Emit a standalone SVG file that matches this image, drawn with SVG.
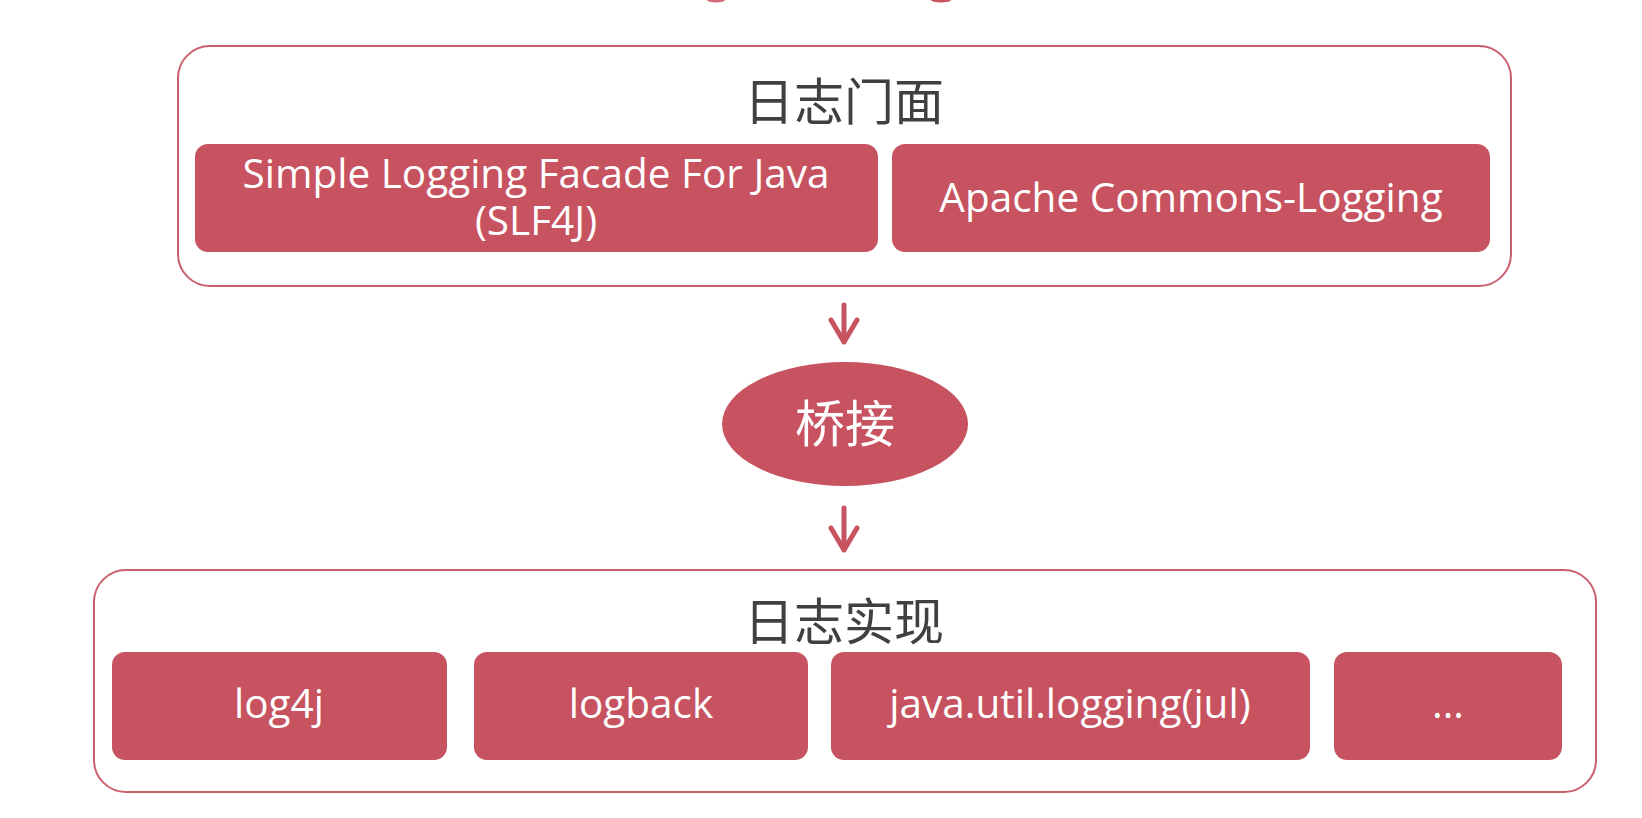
<svg xmlns="http://www.w3.org/2000/svg" width="1642" height="818" viewBox="0 0 1642 818">
<defs>
<style>
.container{fill:#ffffff;stroke:#c9606c;stroke-width:2}
.box{fill:#c75260}
.title{font-family:"Noto Sans CJK SC","Noto Sans",sans-serif;font-size:50px;fill:#404040;text-anchor:middle}
.lbl{font-family:"Open Sans","Noto Sans",sans-serif;font-size:40.5px;fill:#ffffff;text-anchor:middle}
.cjk{font-family:"Noto Sans CJK SC",sans-serif;font-size:50px;fill:#ffffff;text-anchor:middle}
.conn{stroke:#c75260;stroke-width:5;fill:none;stroke-linecap:round;stroke-linejoin:round}
</style>
</defs>
<rect width="1642" height="818" fill="#ffffff"/>
<g id="top-fragments">
<ellipse cx="716" cy="0" rx="9" ry="2.5" fill="#d26a77"/>
<ellipse cx="941" cy="0" rx="10" ry="2.5" fill="#c75260"/>
</g>
<g id="facade">
<rect class="container" x="178" y="46" width="1333" height="240" rx="32"/>
<text class="title" x="844" y="120">日志门面</text>
</g>
<g id="slf4j">
<rect class="box" x="195" y="144" width="683" height="108" rx="13"/>
<text class="lbl" x="536" y="188">Simple Logging Facade For Java<tspan x="536" y="235">(SLF4J)</tspan></text>
</g>
<g id="jcl">
<rect class="box" x="892" y="144" width="598" height="108" rx="13"/>
<text class="lbl" x="1191" y="212">Apache Commons-Logging</text>
</g>
<g id="bridge">
<ellipse class="box" cx="845" cy="424" rx="123" ry="62"/>
<text class="cjk" x="845" y="442">桥接</text>
</g>
<g id="impl">
<rect class="container" x="94" y="570" width="1502" height="222" rx="32"/>
<text class="title" x="844" y="640">日志实现</text>
</g>
<g id="log4j">
<rect class="box" x="112" y="652" width="335" height="108" rx="13"/>
<text class="lbl" x="279" y="718">log4j</text>
</g>
<g id="logback">
<rect class="box" x="474" y="652" width="334" height="108" rx="13"/>
<text class="lbl" x="641" y="718">logback</text>
</g>
<g id="jul">
<rect class="box" x="831" y="652" width="479" height="108" rx="13"/>
<text class="lbl" x="1070" y="718">java.util.logging(jul)</text>
</g>
<g id="more">
<rect class="box" x="1334" y="652" width="228" height="108" rx="13"/>
<text class="lbl" x="1448" y="718">...</text>
</g>
<g id="connectors">
<path class="conn" d="M844 305 V342 M831 320 L844 342 L857 320"/>
<path class="conn" d="M844 508 V550 M831 528 L844 550 L857 528"/>
</g>
</svg>
